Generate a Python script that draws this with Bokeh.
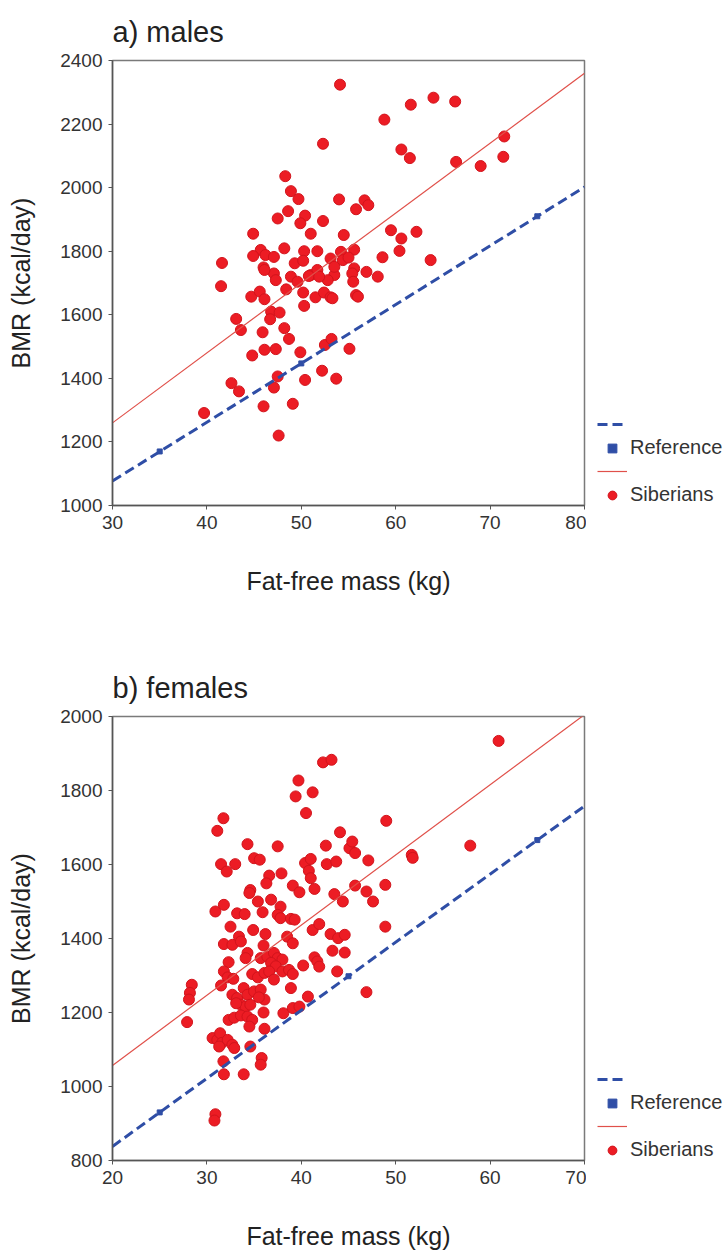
from bokeh.plotting import figure
from bokeh.models import Legend, LegendItem, FixedTicker, Range1d
from bokeh.layouts import column, row
from bokeh.embed import file_html
from bokeh.resources import INLINE
from bokeh.core.properties import value

# ---------------- data: males ----------------
male_ffm = [54.1, 52.3, 48.3, 48.9, 49.7, 54.0, 48.6, 47.5, 50.4, 49.9,
            52.3, 44.9, 51.0, 54.5, 48.2, 45.7, 44.9, 46.2, 47.1, 50.3,
            51.7, 41.6, 46.0, 49.3, 50.2, 53.1, 54.2, 54.4, 47.1, 48.9,
            51.0, 53.5, 51.7, 47.3, 49.6, 52.8, 41.5, 44.7, 45.6, 46.1,
            48.4, 50.2, 50.3, 51.5, 52.4, 53.1, 46.8, 47.7, 46.7, 43.1,
            43.6, 45.9, 48.2, 48.7, 44.8, 46.1, 47.3, 49.9, 42.6, 43.4,
            47.5, 47.1, 50.4, 52.2, 53.7, 52.5, 53.2, 55.1, 46.0, 49.1,
            39.7, 47.6, 58.8, 61.6, 64.0, 66.3, 71.5, 60.6, 61.5, 66.4,
            69.0, 71.4, 55.8, 56.7, 57.1, 59.5, 60.6, 62.2, 58.6, 60.4,
            63.7, 55.6, 55.0, 55.6, 56.9, 58.1, 53.5, 55.4, 55.5, 53.3,
            55.8, 56.0, 46.1, 50.8, 51.9]
male_bmr = [2324, 2138, 2036, 1989, 1964, 1963, 1926, 1903, 1912, 1888,
            1895, 1855, 1855, 1851, 1809, 1804, 1785, 1788, 1782, 1800,
            1800, 1763, 1749, 1762, 1770, 1777, 1798, 1772, 1730, 1720,
            1725, 1725, 1741, 1709, 1704, 1709, 1690, 1657, 1673, 1649,
            1680, 1670, 1628, 1655, 1670, 1655, 1610, 1607, 1586, 1587,
            1552, 1545, 1558, 1524, 1472, 1490, 1492, 1482, 1385, 1359,
            1406, 1371, 1395, 1424, 1399, 1505, 1524, 1493, 1312, 1320,
            1291, 1220, 2214, 2261, 2283, 2271, 2161, 2120, 2093, 2081,
            2068, 2097, 1932, 1960, 1945, 1866, 1840, 1861, 1781, 1801,
            1772, 1805, 1780, 1746, 1735, 1720, 1751, 1730, 1704, 1652,
            1662, 1657, 1741, 1722, 1720]

male_ref_x = [30, 80]
male_ref_y = [1077, 2002]
male_ref_mark_x = [35, 50, 75]
male_ref_mark_y = [1170, 1447, 1910]
male_sib_x = [30, 80]
male_sib_y = [1260, 2360]
male_xticks = [30, 40, 50, 60, 70, 80]
male_yticks = [1000, 1200, 1400, 1600, 1800, 2000, 2200, 2400]

# ---------------- data: females ----------------
female_ffm = [42.3, 43.2, 39.7, 39.4, 41.2, 40.5, 31.75, 31.1, 44.1, 34.3,
              37.5, 42.6, 45.1, 35.0, 35.6, 31.5, 32.1, 33.0, 40.4, 41.0,
              42.7, 43.7, 40.8, 41.0, 37.9, 36.6, 36.3, 39.1, 41.4, 34.6,
              34.5, 43.5, 36.8, 35.4,
              60.9, 49.0, 45.4, 45.7, 47.1, 51.7, 51.8, 57.9, 45.7, 46.9,
              48.9, 44.4, 47.6,
              37.8, 39.8, 30.9, 31.8, 33.2, 34.0, 35.9, 37.5, 37.8, 38.9,
              39.3, 32.5, 34.9, 36.2, 41.2, 41.9, 43.1, 43.9, 44.6, 31.8,
              32.7, 33.4, 33.6, 36.0, 38.5, 39.1, 34.3, 34.1, 32.3, 35.7,
              36.4, 37.1, 37.5, 36.8, 38.0, 37.3, 40.2, 41.4, 41.7, 41.9,
              43.3, 44.6, 43.8, 31.8, 32.2, 32.8, 34.8, 35.4, 36.1, 36.6,
              37.1, 38.0, 38.7, 39.1, 31.5, 28.4, 28.2, 28.1, 27.9, 38.9,
              33.9, 32.7, 33.2, 34.3, 35.0, 35.7, 36.1, 35.5, 33.6, 34.1,
              34.6, 33.1, 36.0, 38.1, 39.1, 39.8, 40.7, 32.3, 32.9, 33.6,
              34.3, 34.8, 34.5, 36.1, 30.6, 31.1, 31.4, 31.6, 32.2, 32.7,
              32.9, 31.3, 34.6, 31.75, 31.8, 33.9, 35.8, 35.7, 30.9, 30.8,
              48.9, 46.9]
female_bmr = [1876, 1883, 1827, 1784, 1795, 1739, 1725, 1691, 1687, 1655,
              1649, 1651, 1644, 1617, 1613, 1601, 1581, 1601, 1604, 1615,
              1601, 1608, 1583, 1563, 1576, 1570, 1549, 1543, 1534, 1531,
              1523, 1520, 1505, 1500,
              1934, 1718, 1662, 1631, 1611, 1626, 1618, 1651, 1543, 1527,
              1545, 1500, 1500,
              1486, 1525, 1473, 1491, 1468, 1466, 1471, 1464, 1455, 1453,
              1451, 1432, 1423, 1412, 1423, 1439, 1412, 1401, 1410, 1385,
              1383, 1405, 1392, 1381, 1405, 1387, 1361, 1347, 1336, 1347,
              1351, 1361, 1347, 1334, 1343, 1325, 1327, 1349, 1338, 1324,
              1367, 1362, 1311, 1311, 1295, 1291, 1304, 1295, 1307, 1311,
              1289, 1311, 1315, 1304, 1273, 1275, 1253, 1235, 1174, 1266,
              1266, 1248, 1239, 1248, 1257, 1262, 1235, 1241, 1221, 1216,
              1221, 1225, 1200, 1198, 1212, 1216, 1243, 1180, 1186, 1192,
              1189, 1180, 1162, 1156, 1131, 1126, 1144, 1118, 1126, 1113,
              1104, 1108, 1108, 1068, 1033, 1033, 1077, 1059, 925, 908,
              1432, 1255]

female_ref_x = [20, 70]
female_ref_y = [838, 1758]
female_ref_mark_x = [25, 45, 65]
female_ref_mark_y = [930, 1298, 1666]
female_sib_x = [20, 70]
female_sib_y = [1057, 2005]
female_xticks = [20, 30, 40, 50, 60, 70]
female_yticks = [800, 1000, 1200, 1400, 1600, 1800, 2000]

legend_labels = ["Reference", "Siberians"]

FONT = "Liberation Sans"
BLUE = "#2f4ea6"
RED = "#ec1c24"
RED_EDGE = "#d2141c"
RED_LINE = "#e0504a"

MAIN_W = 586
LEG_W = 728 - MAIN_W
NAN = [float("nan")]  # placeholder so legend-only renderers have one (invisible) row


def style_points(p, xs, ys):
    return p.scatter(xs, ys, marker="circle", size=11, fill_color=RED,
                     line_color=RED_EDGE, line_width=1)


def style_sib(p, xs, ys):
    return p.line(xs, ys, line_color=RED_LINE, line_width=1.2)


def style_ref(p, xs, ys):
    return p.line(xs, ys, line_color=BLUE, line_width=3, line_dash="10 5")


def style_mark(p, xs, ys):
    return p.scatter(xs, ys, marker="square", size=5, fill_color=BLUE,
                     line_color=BLUE)


def make_panel(title, fx, fy, rx, ry, rmx, rmy, sx, sy, xr, yr, xt, yt,
               height, bottom, xlab_standoff):
    p = figure(width=MAIN_W, height=height, x_range=Range1d(*xr), y_range=Range1d(*yr),
               output_backend="svg", toolbar_location=None,
               min_border_left=112, min_border_right=MAIN_W - 112 - 472,
               min_border_top=60, min_border_bottom=bottom)
    p.title.text = title
    p.title.text_font = FONT
    p.title.text_font_size = "29px"
    p.title.text_font_style = "normal"
    p.title.text_color = "#222222"
    p.title.standoff = 26
    p.grid.visible = False
    p.outline_line_color = "#7a7a7a"
    p.outline_line_width = 1.5
    p.background_fill_color = "white"
    p.border_fill_color = "white"

    for ax in (p.xaxis, p.yaxis):
        ax.axis_line_color = "#555555"
        ax.axis_line_width = 1.5
        ax.major_tick_line_color = "#555555"
        ax.major_tick_out = 4
        ax.major_tick_in = 0
        ax.minor_tick_line_color = None
        ax.major_label_text_font = FONT
        ax.major_label_text_font_size = "19px"
        ax.major_label_text_color = "#333333"
        ax.axis_label_text_font = FONT
        ax.axis_label_text_font_size = "25px"
        ax.axis_label_text_font_style = "normal"
        ax.axis_label_text_color = "#222222"
        ax.major_label_standoff = 6
    p.xaxis.ticker = FixedTicker(ticks=xt)
    p.yaxis.ticker = FixedTicker(ticks=yt)
    p.xaxis.axis_label = "Fat-free mass (kg)"
    p.yaxis.axis_label = "BMR (kcal/day)"
    p.xaxis.axis_label_standoff = xlab_standoff
    p.yaxis.axis_label_standoff = 22

    style_points(p, fx, fy)
    style_sib(p, sx, sy)
    style_ref(p, rx, ry)
    style_mark(p, rmx, rmy)

    # legend lives in a narrow companion figure to the right of the frame
    lg = figure(width=LEG_W, height=height, x_range=Range1d(0, 1), y_range=Range1d(0, 1),
                output_backend="svg", toolbar_location=None,
                x_axis_type=None, y_axis_type=None,
                min_border_left=0, min_border_right=0,
                min_border_top=60, min_border_bottom=bottom)
    lg.outline_line_color = None
    lg.grid.visible = False
    lg.border_fill_color = "white"
    lg.background_fill_color = "white"
    l_ref = style_ref(lg, NAN, NAN)
    l_mark = style_mark(lg, NAN, NAN)
    l_sib = style_sib(lg, NAN, NAN)
    l_pts = style_points(lg, NAN, NAN)
    legend = Legend(items=[
        LegendItem(label=value(""), renderers=[l_ref]),
        LegendItem(label=value(legend_labels[0]), renderers=[l_mark]),
        LegendItem(label=value(""), renderers=[l_sib]),
        LegendItem(label=value(legend_labels[1]), renderers=[l_pts]),
    ], location=(597 - MAIN_W, -1))
    legend.background_fill_alpha = 0
    legend.border_line_alpha = 0
    legend.padding = 0
    legend.margin = 0
    legend.glyph_width = 30
    legend.glyph_height = 22
    legend.label_height = 22
    legend.spacing = 1
    legend.label_standoff = 3
    legend.label_text_font = FONT
    legend.label_text_font_size = "20px"
    legend.label_text_color = "#333333"
    lg.add_layout(legend)
    return row(p, lg, spacing=0)


p1 = make_panel("a) males", male_ffm, male_bmr, male_ref_x, male_ref_y,
                male_ref_mark_x, male_ref_mark_y, male_sib_x, male_sib_y,
                (30, 80), (1000, 2400), male_xticks, male_yticks,
                656, 151, 35)
p2 = make_panel("b) females", female_ffm, female_bmr, female_ref_x, female_ref_y,
                female_ref_mark_x, female_ref_mark_y, female_sib_x, female_sib_y,
                (20, 70), (800, 2000), female_xticks, female_yticks,
                596, 91, 35)

layout = column(p1, p2, spacing=0)
open("out.html", "w").write(file_html(layout, INLINE))
